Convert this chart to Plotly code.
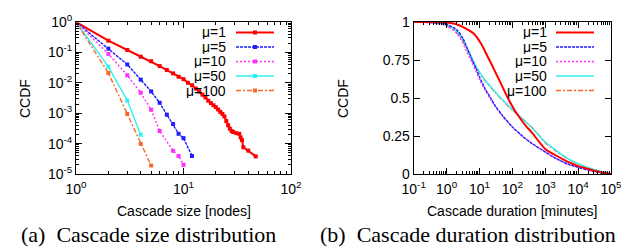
import plotly.graph_objects as go

# ---------------- data: (a) cascade size CCDF ----------------
size_mu1 = [1, 2, 3, 4, 5, 6, 7, 8, 9, 10, 11, 12, 13, 14, 15, 16, 17, 18, 19, 20,
            21, 22, 23, 24, 25, 26, 27, 28, 29, 31, 33, 34, 35, 36, 40, 47]
ccdf_mu1 = [1.0, 0.243, 0.120, 0.0724, 0.0513, 0.0355, 0.0263, 0.0204, 0.0158, 0.0132,
            0.0100, 0.0083, 0.00646, 0.00525, 0.00407, 0.00331, 0.00257, 0.00214, 0.00182,
            0.00158, 0.00132, 0.00110, 0.00095, 0.00078, 0.00055, 0.00040, 0.00031,
            0.00026, 0.00024, 0.00022, 0.00021, 0.00016, 0.00013, 0.000076, 0.000059, 0.000038]
size_mu5 = [1, 2, 3, 4, 5, 6, 7, 8, 9, 10, 12]
ccdf_mu5 = [1.0, 0.133, 0.040, 0.0127, 0.0052, 0.0022, 0.00089, 0.00044, 0.00021, 0.000151, 0.000039]
size_mu10 = [1, 2, 3, 4, 5, 6, 8, 9, 10]
ccdf_mu10 = [1.0, 0.089, 0.0177, 0.0047, 0.0013, 0.00026, 0.000058, 0.000039, 0.00002]
size_mu50 = [1, 2, 3, 4]
ccdf_mu50 = [1.0, 0.034, 0.0026, 0.000195]
size_mu100 = [1, 2, 3, 4, 5]
ccdf_mu100 = [1.0, 0.021, 0.00094, 0.000098, 0.000019]

# ---------------- data: (b) cascade duration CCDF ----------------
dur_mu1 = [0.1, 0.3, 1, 2, 4, 7, 11, 18, 29, 46, 73, 117, 150, 250, 400, 1000, 2000,
           4000, 10000, 16000, 40000, 100000]
dccdf_mu1 = [1.0, 1.0, 0.997, 0.985, 0.955, 0.92, 0.86, 0.77, 0.68, 0.59, 0.50, 0.42,
             0.385, 0.32, 0.27, 0.165, 0.125, 0.09, 0.052, 0.04, 0.016, 0.0]
dur_mu5 = [0.1, 0.5, 1, 2, 3, 4, 6, 8, 10, 15, 22, 30, 50, 100, 200, 400, 1000, 2000,
           5000, 10000, 30000, 100000]
dccdf_mu5 = [1.0, 0.995, 0.985, 0.95, 0.90, 0.84, 0.75, 0.69, 0.64, 0.56, 0.50, 0.45,
             0.385, 0.31, 0.25, 0.20, 0.145, 0.105, 0.065, 0.044, 0.018, 0.0]
dur_mu10 = [0.1, 0.5, 1, 2, 3, 4, 6, 8, 10, 15, 22, 30, 50, 100, 200, 400, 1000, 2000,
            5000, 10000, 30000, 100000]
dccdf_mu10 = [1.0, 0.99, 0.975, 0.93, 0.87, 0.81, 0.73, 0.67, 0.62, 0.55, 0.49, 0.445,
              0.38, 0.31, 0.25, 0.20, 0.145, 0.105, 0.062, 0.042, 0.016, 0.0]
dur_mu50 = [0.1, 0.5, 1, 2, 3, 4, 6, 8, 14, 29, 58, 100, 150, 250, 500, 1000, 2000,
            5000, 10000, 30000, 100000]
dccdf_mu50 = [1.0, 0.995, 0.98, 0.94, 0.89, 0.84, 0.76, 0.705, 0.625, 0.545, 0.475,
              0.425, 0.39, 0.345, 0.28, 0.21, 0.16, 0.10, 0.068, 0.03, 0.0]
dur_mu100 = [0.1, 0.5, 1, 2, 3, 4, 6, 8, 14, 29, 58, 100, 150, 250, 500, 1000, 2000,
             5000, 10000, 30000, 100000]
dccdf_mu100 = [1.0, 0.993, 0.975, 0.93, 0.88, 0.83, 0.755, 0.70, 0.62, 0.54, 0.47,
               0.42, 0.39, 0.345, 0.285, 0.205, 0.155, 0.097, 0.064, 0.027, 0.0]

series_names = ["μ=1", "μ=5", "μ=10", "μ=50", "μ=100"]

left_ticks = [1, 10, 100]
left_ticktext = ["10<sup>0</sup>", "10<sup>1</sup>", "10<sup>2</sup>"]
lefty_ticks = [1, 0.1, 0.01, 0.001, 0.0001, 0.00001]
lefty_ticktext = ["10<sup>0</sup>", "10<sup>-1</sup>", "10<sup>-2</sup>",
                  "10<sup>-3</sup>", "10<sup>-4</sup>", "10<sup>-5</sup>"]
right_ticks = [0.1, 1, 10, 100, 1000, 10000, 100000]
right_ticktext = ["10<sup>-1</sup>", "10<sup>0</sup>", "10<sup>1</sup>", "10<sup>2</sup>",
                  "10<sup>3</sup>", "10<sup>4</sup>", "10<sup>5</sup>"]
righty_ticks = [0, 0.25, 0.5, 0.75, 1]
righty_ticktext = ["0", "0.25", "0.5", "0.75", "1"]

# ---------------- styles ----------------
colors = ["#ff0000", "#1f1fff", "#ff30ff", "#30f0f0", "#f46a2a"]
dashes = ["solid", "3px,1px", "2px,2px", "solid", "5px,2px,2px,2px"]
widths = [2.0, 1.4, 1.4, 1.4, 1.4]

W, H = 629, 248
def px(x):
    return x / W
def py(y):
    return 1 - y / H

FONT = "Liberation Sans, Arial, sans-serif"
fig = go.Figure()

size_x = [size_mu1, size_mu5, size_mu10, size_mu50, size_mu100]
size_y = [ccdf_mu1, ccdf_mu5, ccdf_mu10, ccdf_mu50, ccdf_mu100]
for i in range(5):
    fig.add_trace(go.Scatter(
        x=size_x[i], y=size_y[i], mode="lines+markers", name=series_names[i],
        line=dict(color=colors[i], width=widths[i], dash=dashes[i]),
        marker=dict(symbol="square", size=4, color=colors[i]),
        xaxis="x", yaxis="y", showlegend=False))

dur_x = [dur_mu1, dur_mu5, dur_mu10, dur_mu50, dur_mu100]
dur_y = [dccdf_mu1, dccdf_mu5, dccdf_mu10, dccdf_mu50, dccdf_mu100]
order = [4, 3, 2, 1, 0]
for i in order:
    fig.add_trace(go.Scatter(
        x=dur_x[i], y=dur_y[i], mode="lines", name=series_names[i],
        line=dict(color=colors[i], width=widths[i], dash=dashes[i], shape="spline",
                  smoothing=0.8),
        xaxis="x2", yaxis="y2", showlegend=False))

minor_size = [m * 10 ** e for e in range(0, 2) for m in range(2, 10)]
minor_ccdf = [m * 10.0 ** e for e in range(-5, 0) for m in range(2, 10)]
minor_dur = [m * 10.0 ** e for e in range(-1, 5) for m in range(2, 10)]

axis_common = dict(showline=True, linecolor="black", linewidth=1, mirror="allticks",
                   ticks="inside", ticklen=6, tickcolor="black", showgrid=False,
                   zeroline=False, automargin=False,
                   tickfont=dict(family=FONT, size=14, color="black"))

x0L, x1L = 68, 283
x0R, x1R = 405.7, 603
yT, yB = 14, 166

fig.update_layout(
    width=W, height=H, margin=dict(l=0, r=0, t=0, b=0),
    paper_bgcolor="white", plot_bgcolor="white",
    xaxis=dict(domain=[px(x0L), px(x1L)], type="log", range=[0, 2], anchor="y",
               tickmode="array", tickvals=left_ticks, ticktext=left_ticktext,
               ticklabelstandoff=2,
               minor=dict(tickmode="array", tickvals=minor_size, ticks="inside",
                          ticklen=3, tickcolor="black"),
               **axis_common),
    yaxis=dict(domain=[py(yB), py(yT)], type="log", range=[-5, 0], anchor="x",
               tickmode="array", tickvals=lefty_ticks, ticktext=lefty_ticktext,
               minor=dict(tickmode="array", tickvals=minor_ccdf, ticks="inside",
                          ticklen=3, tickcolor="black"),
               **axis_common),
    xaxis2=dict(domain=[px(x0R), px(x1R)], type="log", range=[-1, 5], anchor="y2",
                tickmode="array", tickvals=right_ticks, ticktext=right_ticktext,
                ticklabelstandoff=2,
                minor=dict(tickmode="array", tickvals=minor_dur, ticks="inside",
                           ticklen=3, tickcolor="black"),
                **axis_common),
    yaxis2=dict(domain=[py(yB), py(yT)], range=[0, 1], anchor="x2",
                tickmode="array", tickvals=righty_ticks, ticktext=righty_ticktext,
                **axis_common),
)

annotations = []
shapes = []
font = dict(family=FONT, size=14, color="black")

def ann(text, x, y, xanchor="center", angle=0, f=font, height=None):
    d = dict(text=text, x=px(x), y=py(y), xref="paper", yref="paper",
             xanchor=xanchor, yanchor="middle", textangle=angle,
             showarrow=False, font=f, borderpad=0)
    if height is not None:
        d["height"] = height
    return d

# axis titles
annotations.append(ann("CCDF", 17, 91, angle=-90))
annotations.append(ann("CCDF", 335, 91, angle=-90))
annotations.append(ann("Cascade size [nodes]", 176, 203))
annotations.append(ann("Cascade duration [minutes]", 504, 203))

# captions
capfont = dict(family="Liberation Serif, Times New Roman, serif", size=22, color="black")
annotations.append(ann("(a)&nbsp;&nbsp;Cascade size distribution", 12, 226, "left", f=capfont))
annotations.append(ann("(b)&nbsp;&nbsp;Cascade duration distribution", 311, 226, "left", f=capfont))

# manual legends (text right-aligned, then line sample)
rows = [24.5, 39, 53.5, 68, 82.5]
for tx, lx0, lx1, markers in [(219, 228, 266, True), (540, 548, 586, False)]:
    for i in range(5):
        yy = rows[i]
        annotations.append(ann(series_names[i], tx, yy, "right", height=14))
        shapes.append(dict(type="line", xref="paper", yref="paper",
                           x0=px(lx0), x1=px(lx1), y0=py(yy), y1=py(yy),
                           line=dict(color=colors[i], width=widths[i], dash=dashes[i])))
        if markers:
            cx = (lx0 + lx1) / 2
            shapes.append(dict(type="rect", xref="paper", yref="paper",
                               x0=px(cx - 2), x1=px(cx + 2), y0=py(yy + 2), y1=py(yy - 2),
                               fillcolor=colors[i], line=dict(width=0)))

fig.update_layout(annotations=annotations, shapes=shapes)
fig.write_html("out.html")
